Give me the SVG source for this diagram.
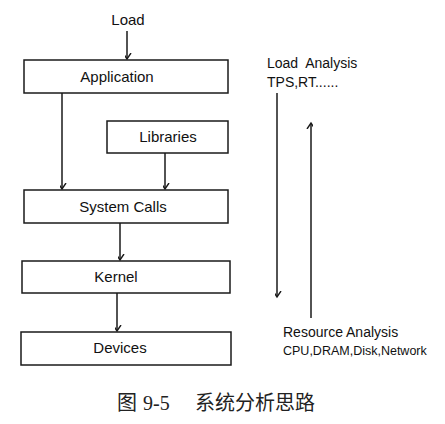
<svg xmlns="http://www.w3.org/2000/svg" width="445" height="424" viewBox="0 0 445 424">
<style>
.box{fill:#fff;stroke:#1a1a1a;stroke-width:1.5}
.lbl{font-family:"Liberation Sans",Arial,sans-serif;font-size:15px;fill:#111;text-anchor:middle}
.side{font-family:"Liberation Sans",Arial,sans-serif;font-size:14px;fill:#111}
.small{font-family:"Liberation Sans",Arial,sans-serif;font-size:12.5px;fill:#111}
.conn{stroke:#1a1a1a;stroke-width:1.5;fill:none}
.cap{font-size:20px;fill:#222}
</style>
<defs>
<marker id="ah" markerUnits="userSpaceOnUse" markerWidth="12" markerHeight="10" viewBox="-6 -8 12 10" refX="0" refY="0" orient="auto-start-reverse">
<path d="M-4,-6 L0,0 L4,-6" fill="none" stroke="#1a1a1a" stroke-width="1.4" transform="rotate(-90)"/>
</marker>
</defs>
<rect width="445" height="424" fill="#fff"/>
<g id="connectors">
<line class="conn" x1="127" y1="31" x2="127" y2="59" marker-end="url(#ah)"/>
<line class="conn" x1="62" y1="93" x2="62" y2="189" marker-end="url(#ah)"/>
<line class="conn" x1="165" y1="153" x2="165" y2="189" marker-end="url(#ah)"/>
<line class="conn" x1="120" y1="223" x2="120" y2="260" marker-end="url(#ah)"/>
<line class="conn" x1="117" y1="293" x2="117" y2="331" marker-end="url(#ah)"/>
<line class="conn" x1="277" y1="93" x2="277" y2="297" marker-end="url(#ah)"/>
<line class="conn" x1="311" y1="318" x2="311" y2="123" marker-end="url(#ah)"/>
</g>
<g id="load"><text class="lbl" x="128" y="25">Load</text></g>
<g id="application"><rect class="box" x="24" y="60" width="204" height="33"/><text class="lbl" x="117" y="82">Application</text></g>
<g id="libraries"><rect class="box" x="107" y="121" width="121" height="32"/><text class="lbl" x="168" y="142">Libraries</text></g>
<g id="systemcalls"><rect class="box" x="24" y="190" width="204" height="33"/><text class="lbl" x="123" y="212">System Calls</text></g>
<g id="kernel"><rect class="box" x="22" y="261" width="208" height="32"/><text class="lbl" x="116" y="282">Kernel</text></g>
<g id="devices"><rect class="box" x="21" y="332" width="210" height="33"/><text class="lbl" x="120" y="353">Devices</text></g>
<g id="loadanalysis"><text class="side" x="267" y="68" xml:space="preserve">Load  Analysis</text><text class="side" x="267" y="87">TPS,RT......</text></g>
<g id="resourceanalysis"><text class="side" x="283" y="337">Resource Analysis</text><text class="small" x="283" y="355">CPU,DRAM,Disk,Network</text></g>
<g id="caption">
<text class="cap" x="117" y="410" font-family="'Noto Sans CJK SC',sans-serif">图</text>
<text class="cap" x="143" y="410" font-family="'Liberation Serif',serif">9-5</text>
<text class="cap" x="195" y="410" font-family="'Noto Sans CJK SC',sans-serif">系统分析思路</text>
</g>
</svg>
